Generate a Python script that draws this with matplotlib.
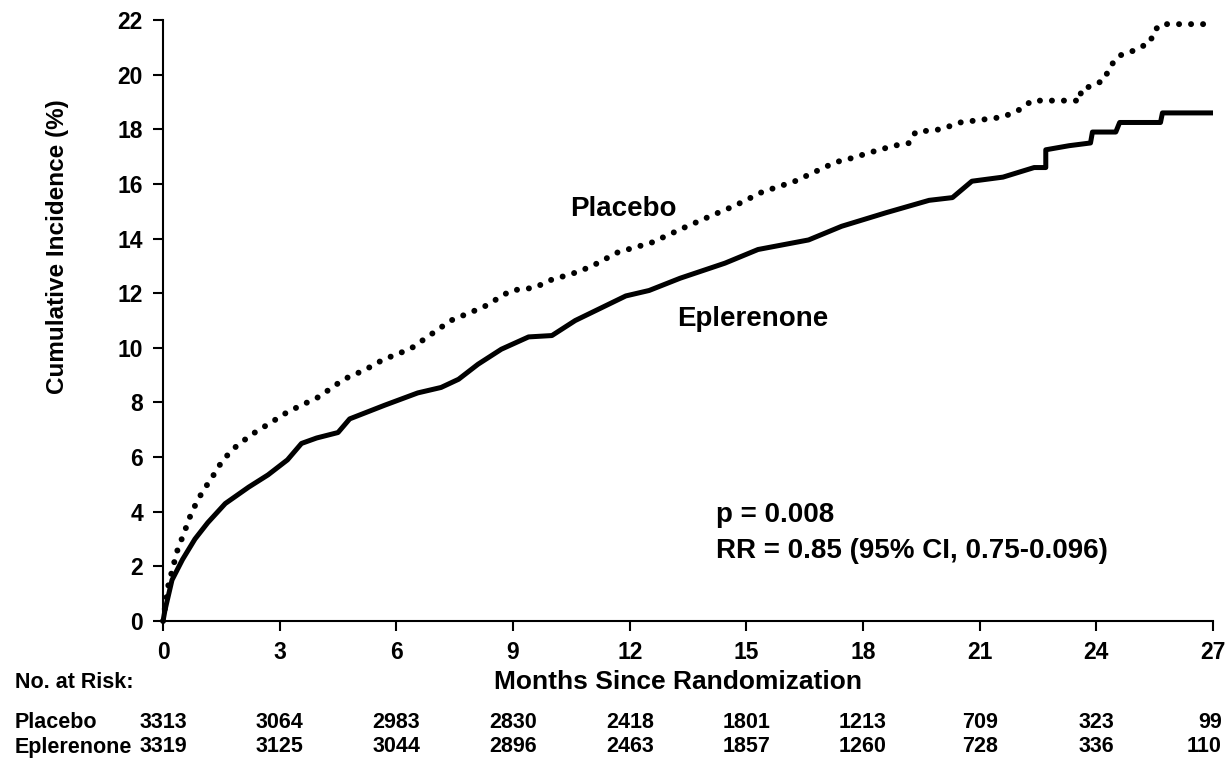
#!/usr/bin/env python3
import matplotlib
matplotlib.use("Agg")
from matplotlib import pyplot as plt
from matplotlib import transforms

# Cumulative incidence curves (months, %)
placebo_months = [0, 0.13, 0.36, 0.56, 0.74, 1.0, 1.28, 1.54, 1.92, 2.36, 2.7,
                  3.2, 3.56, 4.0, 4.65, 5.2, 5.7, 6.0, 6.4, 6.9, 7.4, 8.25,
                  8.95, 9.55, 10.0, 10.5, 11.0, 11.7, 12.56, 13.4, 14.2, 14.7,
                  15.4, 16.25, 16.7, 17.3, 17.6, 18.3, 18.8, 19.2, 19.35,
                  20.0, 20.5, 21.6, 22.0, 22.35, 23.6, 23.6, 23.9, 24.2,
                  24.35, 24.6, 25.0, 25.4, 25.45, 25.66, 27.0]
placebo_pct = [0, 1.27, 2.55, 3.3, 4.0, 4.7, 5.3, 5.9, 6.45, 6.9, 7.2,
               7.65, 7.9, 8.2, 8.85, 9.2, 9.6, 9.75, 10.0, 10.5, 11.0, 11.5,
               12.1, 12.2, 12.5, 12.7, 12.97, 13.5, 13.85, 14.4, 14.9, 15.2,
               15.7, 16.1, 16.4, 16.8, 16.9, 17.2, 17.4, 17.5, 17.9,
               18.0, 18.25, 18.45, 18.7, 19.05, 19.05, 19.45, 19.6, 19.8,
               20.3, 20.7, 20.9, 21.2, 21.55, 21.85, 21.85]

eplerenone_months = [0, 0.05, 0.23, 0.5, 0.82, 1.15, 1.6, 2.2, 2.7, 3.2, 3.56,
                     3.95, 4.5, 4.8, 5.7, 6.55, 7.15, 7.6, 8.1, 8.7, 9.4, 10.0,
                     10.6, 11.9, 12.5, 13.3, 14.45, 15.3, 16.6, 17.45, 18.6,
                     19.7, 20.3, 20.8, 21.6, 22.4, 22.7, 22.7, 23.3, 23.85,
                     23.9, 24.5, 24.6, 25.65, 25.7, 27.0]
eplerenone_pct = [0, 0.4, 1.5, 2.25, 3.0, 3.6, 4.3, 4.9, 5.35, 5.9, 6.5,
                  6.7, 6.9, 7.4, 7.9, 8.35, 8.55, 8.85, 9.4, 9.95, 10.4, 10.45,
                  11.0, 11.9, 12.1, 12.55, 13.1, 13.6, 13.95, 14.45, 14.95,
                  15.4, 15.5, 16.1, 16.25, 16.6, 16.6, 17.25, 17.4, 17.5,
                  17.9, 17.9, 18.25, 18.25, 18.6, 18.6]

x_ticks = [0, 3, 6, 9, 12, 15, 18, 21, 24, 27]
y_ticks = [0, 2, 4, 6, 8, 10, 12, 14, 16, 18, 20, 22]

risk_placebo = [3313, 3064, 2983, 2830, 2418, 1801, 1213, 709, 323, 99]
risk_eplerenone = [3319, 3125, 3044, 2896, 2463, 1857, 1260, 728, 336, 110]


def main():
    plt.rcParams['font.family'] = ['Liberation Sans', 'DejaVu Sans']
    plt.rcParams['font.weight'] = 'bold'

    fig = plt.figure(figsize=(12.25, 7.59), dpi=100)
    ax = fig.add_axes([0.1331, 0.1818, 0.8571, 0.7918])

    ax.plot(placebo_months, placebo_pct, color='black', lw=4.3,
            linestyle=(0, (0.01, 2.0)), dash_capstyle='round',
            clip_on=False, zorder=3)
    ax.plot(eplerenone_months, eplerenone_pct, color='black', lw=3.6,
            solid_capstyle='butt', solid_joinstyle='round',
            clip_on=False, zorder=3)

    ax.set_xlim(0, 27)
    ax.set_ylim(0, 22)
    ax.set_xticks(x_ticks)
    ax.set_yticks(y_ticks)
    ax.tick_params(direction='out', length=7.5, width=1.5, labelsize=16.5,
                   pad=7)
    for lab in ax.get_xticklabels() + ax.get_yticklabels():
        lab.set_fontweight('bold')
    for side in ['top', 'right']:
        ax.spines[side].set_visible(False)
    for side in ['left', 'bottom']:
        ax.spines[side].set_linewidth(1.5)

    # labels inside the plot
    ax.text(11.84, 15.1, "Placebo", fontsize=20, fontweight='bold',
            ha='center', va='center')
    ax.text(15.16, 11.07, "Eplerenone", fontsize=20, fontweight='bold',
            ha='center', va='center')
    ax.text(14.23, 3.87, "p = 0.008", fontsize=20, fontweight='bold',
            ha='left', va='center')
    ax.text(14.23, 2.56, "RR = 0.85 (95% CI, 0.75-0.096)", fontsize=20,
            fontweight='bold', ha='left', va='center')

    # axis titles
    fig.text(58 / 1225, 1 - 247 / 759, "Cumulative Incidence (%)",
             rotation=90, fontsize=17.5, fontweight='bold',
             ha='center', va='center')
    fig.text(678 / 1225, 1 - 682 / 759, "Months Since Randomization",
             fontsize=19, fontweight='bold', ha='center', va='center')

    # number at risk table
    fig.text(15 / 1225, 1 - 683 / 759, "No. at Risk:", fontsize=15.5,
             fontweight='bold', ha='left', va='center')
    fig.text(15 / 1225, 1 - 723 / 759, "Placebo", fontsize=15.5,
             fontweight='bold', ha='left', va='center')
    fig.text(15 / 1225, 1 - 747 / 759, "Eplerenone", fontsize=15.5,
             fontweight='bold', ha='left', va='center')
    trans = transforms.blended_transform_factory(ax.transData, fig.transFigure)
    last_shift = transforms.ScaledTranslation(9 / 100, 0, fig.dpi_scale_trans)
    for i, (month, n_p, n_e) in enumerate(zip(x_ticks, risk_placebo,
                                              risk_eplerenone)):
        if i == len(x_ticks) - 1:
            tr, ha = trans + last_shift, 'right'
        else:
            tr, ha = trans, 'center'
        ax.text(month, 1 - 723 / 759, str(n_p), transform=tr,
                fontsize=15.5, fontweight='bold', ha=ha, va='center')
        ax.text(month, 1 - 747 / 759, str(n_e), transform=tr,
                fontsize=15.5, fontweight='bold', ha=ha, va='center')

    fig.savefig("out.png", dpi=100)


if __name__ == "__main__":
    main()
